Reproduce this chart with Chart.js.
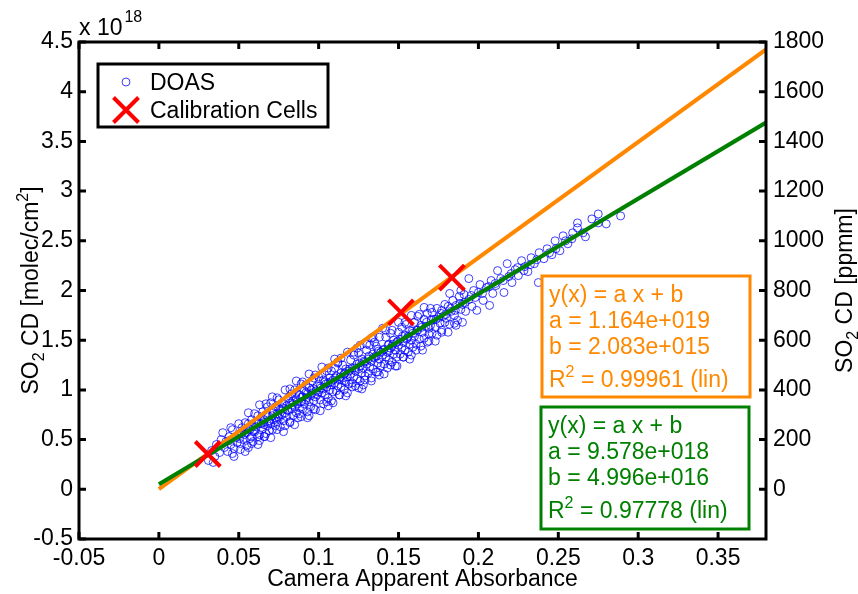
<!DOCTYPE html>
<html><head><meta charset="utf-8">
<script src="https://cdn.jsdelivr.net/npm/chart.js@4"></script>
<style>html,body{margin:0;padding:0;background:#fff}#wrap{width:858px;height:594px;position:relative}</style>
</head><body><div id="wrap"><canvas id="c"></canvas></div>
<script>
// ---- data (y in units of 1e18 molec/cm2) ----
const xTicks = [-0.05, 0, 0.05, 0.1, 0.15, 0.2, 0.25, 0.3, 0.35];
const yTicksLeft = [-0.5, 0, 0.5, 1, 1.5, 2, 2.5, 3, 3.5, 4, 4.5];
const yTicksRight = [0, 200, 400, 600, 800, 1000, 1200, 1400, 1600, 1800];

const doasPoints = [
 [0.031,0.29],[0.033,0.39],[0.035,0.33],[0.036,0.45],[0.038,0.37],[0.039,0.50],[0.034,0.27],
 [0.040,0.57],[0.041,0.42],[0.042,0.48],[0.043,0.38],[0.044,0.53],[0.045,0.45],[0.046,0.60],[0.047,0.41],[0.048,0.52],[0.049,0.47],[0.046,0.36],[0.044,0.49],
 [0.050,0.55],[0.051,0.46],[0.052,0.62],[0.053,0.50],[0.054,0.67],[0.055,0.57],[0.055,0.44],[0.056,0.42],[0.057,0.60],[0.058,0.53],[0.058,0.70],[0.059,0.48],[0.059,0.63],[0.052,0.56],[0.056,0.66],[0.057,0.51],[0.053,0.59],
 [0.060,0.58],[0.061,0.68],[0.062,0.74],[0.063,0.55],[0.063,0.49],[0.064,0.66],[0.065,0.78],[0.065,0.61],[0.066,0.70],[0.067,0.56],[0.067,0.75],[0.068,0.64],[0.068,0.83],[0.069,0.69],[0.069,0.59],[0.061,0.63],[0.062,0.53],[0.064,0.72],[0.066,0.65],[0.066,0.53],[0.068,0.73],
 [0.070,0.87],[0.070,0.66],[0.071,0.74],[0.071,0.60],[0.072,0.79],[0.072,0.70],[0.073,0.64],[0.073,0.83],[0.074,0.76],[0.074,0.68],[0.075,0.90],[0.075,0.72],[0.076,0.63],[0.076,0.80],[0.077,0.75],[0.077,0.86],[0.078,0.69],[0.078,0.81],[0.079,0.77],[0.079,0.64],[0.075,0.81],[0.073,0.72],
 [0.080,0.84],[0.080,0.73],[0.081,0.92],[0.081,0.79],[0.082,0.68],[0.082,0.87],[0.083,0.81],[0.083,0.96],[0.084,0.74],[0.084,0.89],[0.085,0.83],[0.085,1.00],[0.086,0.77],[0.086,0.91],[0.087,0.86],[0.087,0.72],[0.088,0.95],[0.088,0.82],[0.089,0.88],[0.089,1.06],[0.086,0.97],[0.083,0.87],[0.088,0.76],
 [0.090,0.93],[0.090,0.81],[0.091,0.99],[0.091,0.86],[0.092,1.05],[0.092,0.90],[0.093,0.78],[0.093,0.96],[0.094,0.88],[0.094,1.02],[0.095,0.94],[0.095,0.83],[0.096,1.09],[0.096,0.97],[0.097,0.89],[0.097,1.01],[0.098,0.93],[0.098,0.80],[0.099,1.04],[0.099,0.95],[0.094,0.74],[0.097,1.12],[0.092,0.97],
 [0.100,0.98],[0.100,1.13],[0.101,0.90],[0.101,1.04],[0.102,0.97],[0.102,1.16],[0.103,1.01],[0.103,0.86],[0.104,1.08],[0.104,0.95],[0.105,1.03],[0.105,1.19],[0.106,0.92],[0.106,1.07],[0.107,1.00],[0.107,1.12],[0.108,0.89],[0.108,1.05],[0.109,1.10],[0.109,0.98],[0.103,1.10],[0.106,0.84],[0.108,1.19],
 [0.110,1.07],[0.110,1.22],[0.111,0.99],[0.111,1.14],[0.112,1.04],[0.112,1.27],[0.113,1.10],[0.113,0.95],[0.114,1.17],[0.114,1.03],[0.115,1.12],[0.115,1.25],[0.116,1.00],[0.116,1.16],[0.117,1.08],[0.117,1.21],[0.118,0.97],[0.118,1.13],[0.119,1.19],[0.119,1.06],[0.114,1.32],[0.116,1.09],
 [0.120,1.16],[0.120,1.30],[0.121,1.07],[0.121,1.22],[0.122,1.13],[0.122,1.35],[0.123,1.19],[0.123,1.04],[0.124,1.26],[0.124,1.11],[0.125,1.21],[0.125,1.37],[0.126,1.09],[0.126,1.24],[0.127,1.17],[0.127,1.31],[0.128,1.05],[0.128,1.22],[0.129,1.28],[0.129,1.14],[0.124,1.42],[0.127,1.01],
 [0.130,1.26],[0.130,1.40],[0.131,1.17],[0.131,1.31],[0.132,1.23],[0.132,1.45],[0.133,1.29],[0.133,1.12],[0.134,1.36],[0.134,1.21],[0.135,1.32],[0.135,1.48],[0.136,1.18],[0.136,1.34],[0.137,1.27],[0.137,1.41],[0.138,1.15],[0.138,1.31],[0.139,1.38],[0.139,1.24],[0.133,1.52],[0.136,1.44],
 [0.140,1.35],[0.140,1.62],[0.141,1.26],[0.141,1.41],[0.142,1.33],[0.142,1.53],[0.143,1.38],[0.143,1.22],[0.144,1.46],[0.144,1.30],[0.145,1.42],[0.145,1.57],[0.146,1.28],[0.146,1.44],[0.147,1.36],[0.147,1.50],[0.148,1.24],[0.148,1.40],[0.149,1.48],[0.149,1.33],[0.144,1.39],
 [0.150,1.45],[0.150,1.58],[0.151,1.36],[0.151,1.51],[0.152,1.42],[0.152,1.63],[0.153,1.48],[0.153,1.33],[0.154,1.55],[0.154,1.40],[0.155,1.51],[0.155,1.66],[0.156,1.38],[0.156,1.54],[0.157,1.46],[0.157,1.60],[0.158,1.35],[0.158,1.50],[0.159,1.57],[0.159,1.43],
 [0.160,1.54],[0.160,1.68],[0.161,1.46],[0.162,1.60],[0.162,1.74],[0.163,1.51],[0.164,1.65],[0.164,1.44],[0.165,1.58],[0.166,1.71],[0.166,1.52],[0.167,1.64],[0.168,1.48],[0.168,1.77],[0.169,1.62],[0.169,1.56],
 [0.170,1.65],[0.171,1.78],[0.171,1.57],[0.172,1.71],[0.173,1.63],[0.174,1.82],[0.174,1.55],[0.175,1.73],[0.176,1.67],[0.177,1.80],[0.177,1.60],[0.178,1.74],[0.179,1.86],[0.179,1.68],
 [0.180,1.72],[0.181,1.84],[0.182,1.66],[0.183,1.79],[0.184,1.90],[0.185,1.75],[0.186,1.85],[0.187,1.70],[0.188,1.94],[0.189,1.81],[0.186,1.65],
 [0.190,1.86],[0.191,1.96],[0.192,1.79],[0.194,2.12],[0.194,1.91],[0.196,1.84],[0.197,2.00],[0.198,1.93],[0.199,1.80],
 [0.200,1.98],[0.201,2.06],[0.203,1.90],[0.205,2.03],[0.207,1.85],[0.208,2.10],[0.209,1.97],
 [0.211,2.05],[0.212,2.20],[0.214,2.12],[0.216,1.98],[0.218,2.27],[0.219,2.14],
 [0.221,2.08],[0.223,2.21],[0.225,2.15],[0.227,2.30],[0.229,2.24],
 [0.231,2.19],[0.233,2.33],[0.235,2.27],[0.2375,2.08],[0.238,2.38],
 [0.241,2.32],[0.243,2.42],[0.246,2.36],[0.248,2.50],
 [0.251,2.40],[0.253,2.55],[0.256,2.47],[0.259,2.58],[0.262,2.68],[0.262,2.63],[0.267,2.54],[0.271,2.72],[0.275,2.77],[0.275,2.68],[0.280,2.67],[0.289,2.75],
 [0.045,0.62],[0.047,0.33],[0.050,0.66],[0.051,0.40],[0.054,0.38],[0.056,0.77],[0.058,0.46],[0.060,0.76],[0.062,0.45],[0.063,0.85],
 [0.066,0.53],[0.067,0.86],[0.070,0.52],[0.071,0.93],[0.074,0.60],[0.074,0.92],[0.078,0.58],[0.079,1.00],[0.082,0.67],[0.082,1.01],
 [0.085,0.65],[0.086,1.09],[0.089,0.73],[0.090,1.08],[0.093,0.72],[0.094,1.16],[0.097,0.81],[0.098,1.15],[0.101,0.79],[0.102,1.23],
 [0.105,0.88],[0.106,1.22],[0.109,0.87],[0.110,1.31],[0.113,0.95],[0.112,1.28],[0.117,0.94],[0.118,1.38],[0.121,1.03],[0.122,1.38],
 [0.125,1.02],[0.126,1.45],[0.129,1.10],[0.130,1.46],[0.133,1.09],[0.134,1.53],[0.137,1.18],[0.138,1.53],[0.141,1.16],[0.142,1.60],
 [0.145,1.25],[0.146,1.60],[0.149,1.24],[0.150,1.68],[0.153,1.33],[0.154,1.68],[0.157,1.31],[0.158,1.75],[0.161,1.40],[0.163,1.76],
 [0.165,1.40],[0.166,1.83],[0.169,1.49],[0.170,1.82],[0.173,1.49],[0.177,1.58],[0.181,1.58],[0.182,1.97],[0.185,1.67],[0.190,1.68],[0.189,2.00],
 [0.0505,0.51],[0.0535,0.55],[0.0565,0.61],[0.0595,0.59],[0.0625,0.66],[0.0655,0.67],[0.0685,0.68],[0.0715,0.77],[0.0745,0.73],[0.0775,0.82],
 [0.0805,0.80],[0.0835,0.85],[0.0865,0.88],[0.0895,0.93],[0.0925,0.92],[0.0955,1.00],[0.0985,0.99],[0.1015,1.02],[0.1045,1.06],[0.1075,1.08],
 [0.1105,1.12],[0.1135,1.13],[0.1165,1.17],[0.1195,1.21],[0.1225,1.22],[0.1255,1.27],[0.1285,1.29],[0.1315,1.34],[0.1345,1.33],[0.1375,1.39],
 [0.1405,1.40],[0.1435,1.45],[0.1465,1.46],[0.1495,1.49],[0.1525,1.54],[0.1555,1.52],[0.1585,1.59],[0.1615,1.60],[0.1645,1.63],[0.1675,1.68],
 [0.1705,1.70],[0.1735,1.71],[0.1765,1.77],[0.1795,1.76],[0.1825,1.82],[0.1855,1.80],[0.1885,1.87],[0.1915,1.88],[0.1955,1.95],[0.2025,1.97],
 [0.2065,2.04],[0.2105,2.07],[0.2155,2.10],[0.2205,2.17],[0.2245,2.23],[0.2285,2.20],[0.2325,2.26],[0.2365,2.31],[0.2445,2.38],[0.2485,2.42],
 [0.2545,2.50],[0.2585,2.52],[0.2655,2.58]
];

const calX = [0.0306, 0.1515, 0.1834];
const calY = [0.355, 1.78, 2.13];

const fitX = [0, 0.38];
const orangeFitY = [0.0021, 4.4253];
const greenFitY = [0.0500, 3.6896];

const orangeBoxLines = ["y(x) = a x + b", "a = 1.164e+019", "b = 2.083e+015", "R^2 = 0.99961 (lin)"];
const greenBoxLines  = ["y(x) = a x + b", "a = 9.578e+018", "b = 4.996e+016", "R^2 = 0.97778 (lin)"];

const xTitle = "Camera Apparent Absorbance";
const yTitleLeft = "SO_2 CD [molec/cm^2]";
const yTitleRight = "SO_2 CD [ppmm]";
const expLabel = ["x 10", "18"];

// ---- styling ----
const FONT = "'Liberation Sans', Arial, Helvetica, sans-serif";
const FS = 23, FSS = 16;
const ORANGE = '#ff8800', GREEN = '#008000', BLUE = 'rgba(0,0,255,0.75)', RED = '#ff0000';

function parseRich(s){
  const segs=[]; let buf='';
  for(let i=0;i<s.length;i++){
    const c=s[i];
    if(c==='_'||c==='^'){ if(buf){segs.push({t:buf,k:'n'});buf='';} segs.push({t:s[i+1],k:c==='_'?'sub':'sup'}); i++; }
    else buf+=c;
  }
  if(buf) segs.push({t:buf,k:'n'});
  return segs;
}
function richWidth(ctx,segs){
  let w=0; for(const g of segs){ ctx.font=(g.k==='n'?FS:FSS)+'px '+FONT; w+=ctx.measureText(g.t).width; } return w;
}
function drawRich(ctx,s,x,y,align){
  const segs=parseRich(s);
  let cx = x;
  if(align==='center') cx = x - richWidth(ctx,segs)/2;
  ctx.textAlign='left'; ctx.textBaseline='alphabetic';
  for(const g of segs){
    ctx.font=(g.k==='n'?FS:FSS)+'px '+FONT;
    const dy = g.k==='sub'?6:(g.k==='sup'?-10:0);
    ctx.fillText(g.t,cx,y+dy);
    cx+=ctx.measureText(g.t).width;
  }
}

const decor = {
  id:'decor',
  afterDatasetsDraw(chart){
    const ctx=chart.ctx, ca=chart.chartArea;
    const xs=chart.scales.x, yl=chart.scales.y, yr=chart.scales.y2;
    ctx.save();
    // axes box
    ctx.strokeStyle='#000'; ctx.lineWidth=3;
    ctx.strokeRect(ca.left,ca.top,ca.right-ca.left,ca.bottom-ca.top);
    // inward ticks
    const TL=7;
    ctx.beginPath();
    for(const t of xs.ticks){ const p=xs.getPixelForValue(t.value);
      ctx.moveTo(p,ca.bottom); ctx.lineTo(p,ca.bottom-TL);
      ctx.moveTo(p,ca.top); ctx.lineTo(p,ca.top+TL); }
    for(const t of yl.ticks){ const p=yl.getPixelForValue(t.value);
      ctx.moveTo(ca.left,p); ctx.lineTo(ca.left+TL,p); }
    for(const t of yr.ticks){ const p=yr.getPixelForValue(t.value);
      ctx.moveTo(ca.right,p); ctx.lineTo(ca.right-TL,p); }
    ctx.stroke();

    // legend
    const lg={l:98,t:64,r:328,b:127};
    ctx.fillStyle='#fff'; ctx.fillRect(lg.l,lg.t,lg.r-lg.l,lg.b-lg.t);
    ctx.lineWidth=3; ctx.strokeStyle='#000'; ctx.strokeRect(lg.l,lg.t,lg.r-lg.l,lg.b-lg.t);
    const d0=chart.data.datasets[0], d1=chart.data.datasets[1];
    ctx.strokeStyle=d0.pointBorderColor; ctx.lineWidth=d0.pointBorderWidth;
    ctx.beginPath(); ctx.arc(126,82,d0.pointRadius,0,Math.PI*2); ctx.stroke();
    ctx.strokeStyle=d1.pointBorderColor; ctx.lineWidth=d1.pointBorderWidth;
    ctx.beginPath(); const h=12.5;
    ctx.moveTo(126-h,110-h); ctx.lineTo(126+h,110+h); ctx.moveTo(126+h,110-h); ctx.lineTo(126-h,110+h); ctx.stroke();
    ctx.fillStyle='#000';
    drawRich(ctx,d0.label,150,90,'left');
    drawRich(ctx,d1.label,150,118,'left');

    // fit text boxes
    function box(b,lines,col){
      ctx.fillStyle='#fff'; ctx.fillRect(b.l,b.t,b.r-b.l,b.b-b.t);
      ctx.strokeStyle=col; ctx.lineWidth=3; ctx.strokeRect(b.l,b.t,b.r-b.l,b.b-b.t);
      ctx.fillStyle=col;
      const offs=[26,52,78,111];
      lines.forEach((s,i)=>drawRich(ctx,s,b.l+7,b.t+offs[i],'left'));
    }
    box({l:542,t:276,r:750,b:397},orangeBoxLines,ORANGE);
    box({l:541,t:407,r:749,b:529},greenBoxLines,GREEN);

    // titles
    ctx.fillStyle='#000';
    drawRich(ctx,xTitle,(ca.left+ca.right)/2,586,'center');
    ctx.save(); ctx.translate(38,(ca.top+ca.bottom)/2); ctx.rotate(-Math.PI/2);
    drawRich(ctx,yTitleLeft,0,0,'center'); ctx.restore();
    ctx.save(); ctx.translate(852,(ca.top+ca.bottom)/2); ctx.rotate(-Math.PI/2);
    drawRich(ctx,yTitleRight,0,0,'center'); ctx.restore();
    // exponent
    ctx.font=FS+'px '+FONT; ctx.textAlign='left'; ctx.textBaseline='alphabetic';
    ctx.fillText(expLabel[0],79,35);
    const w=ctx.measureText(expLabel[0]).width;
    ctx.font=FSS+'px '+FONT; ctx.fillText(expLabel[1],79+w+2,22);
    ctx.restore();
  }
};

const fmt = v => String(+v.toFixed(4));
const tickFont = {family:FONT,size:FS};

new Chart(document.getElementById('c'), {
  type:'scatter',
  data:{ datasets:[
    { label:'DOAS', data:doasPoints.map(p=>({x:p[0],y:p[1]})), pointStyle:'circle', pointRadius:4,
      pointBorderWidth:1, pointBorderColor:BLUE, pointBackgroundColor:'rgba(0,0,0,0)', showLine:false, order:3 },
    { label:'Calibration Cells', data:calX.map((x,i)=>({x,y:calY[i]})), pointStyle:'crossRot', pointRadius:17.7,
      pointBorderWidth:4, pointBorderColor:RED, pointBackgroundColor:RED, showLine:false, order:0 },
    { label:'fit1', data:fitX.map((x,i)=>({x,y:orangeFitY[i]})), showLine:true, borderColor:ORANGE, borderWidth:4,
      pointRadius:0, order:2 },
    { label:'fit2', data:fitX.map((x,i)=>({x,y:greenFitY[i]})), showLine:true, borderColor:GREEN, borderWidth:4,
      pointRadius:0, order:1 }
  ]},
  options:{
    responsive:true, maintainAspectRatio:false, animation:false, events:[],
    layout:{padding:{top:42,left:0,right:0,bottom:0}},
    plugins:{legend:{display:false}, tooltip:{enabled:false}},
    scales:{
      x:{ type:'linear', min:-0.05, max:0.38,
        afterBuildTicks:s=>{s.ticks=xTicks.map(v=>({value:v}));},
        afterFit:s=>{s.height=55;},
        grid:{display:false,drawTicks:false}, border:{display:false},
        ticks:{font:tickFont,color:'#000',padding:6,autoSkip:false,maxRotation:0,callback:v=>fmt(v)} },
      y:{ type:'linear', position:'left', min:-0.5, max:4.5,
        afterBuildTicks:s=>{s.ticks=yTicksLeft.map(v=>({value:v}));},
        afterFit:s=>{s.width=79;},
        grid:{display:false,drawTicks:false}, border:{display:false},
        ticks:{font:tickFont,color:'#000',padding:6,autoSkip:false,callback:v=>fmt(v)} },
      y2:{ type:'linear', position:'right', min:-200, max:1800,
        afterBuildTicks:s=>{s.ticks=yTicksRight.map(v=>({value:v}));},
        afterFit:s=>{s.width=92;},
        grid:{display:false,drawTicks:false}, border:{display:false},
        ticks:{font:tickFont,color:'#000',padding:7,autoSkip:false,callback:v=>fmt(v)} }
    }
  },
  plugins:[decor]
});
</script></body></html>
